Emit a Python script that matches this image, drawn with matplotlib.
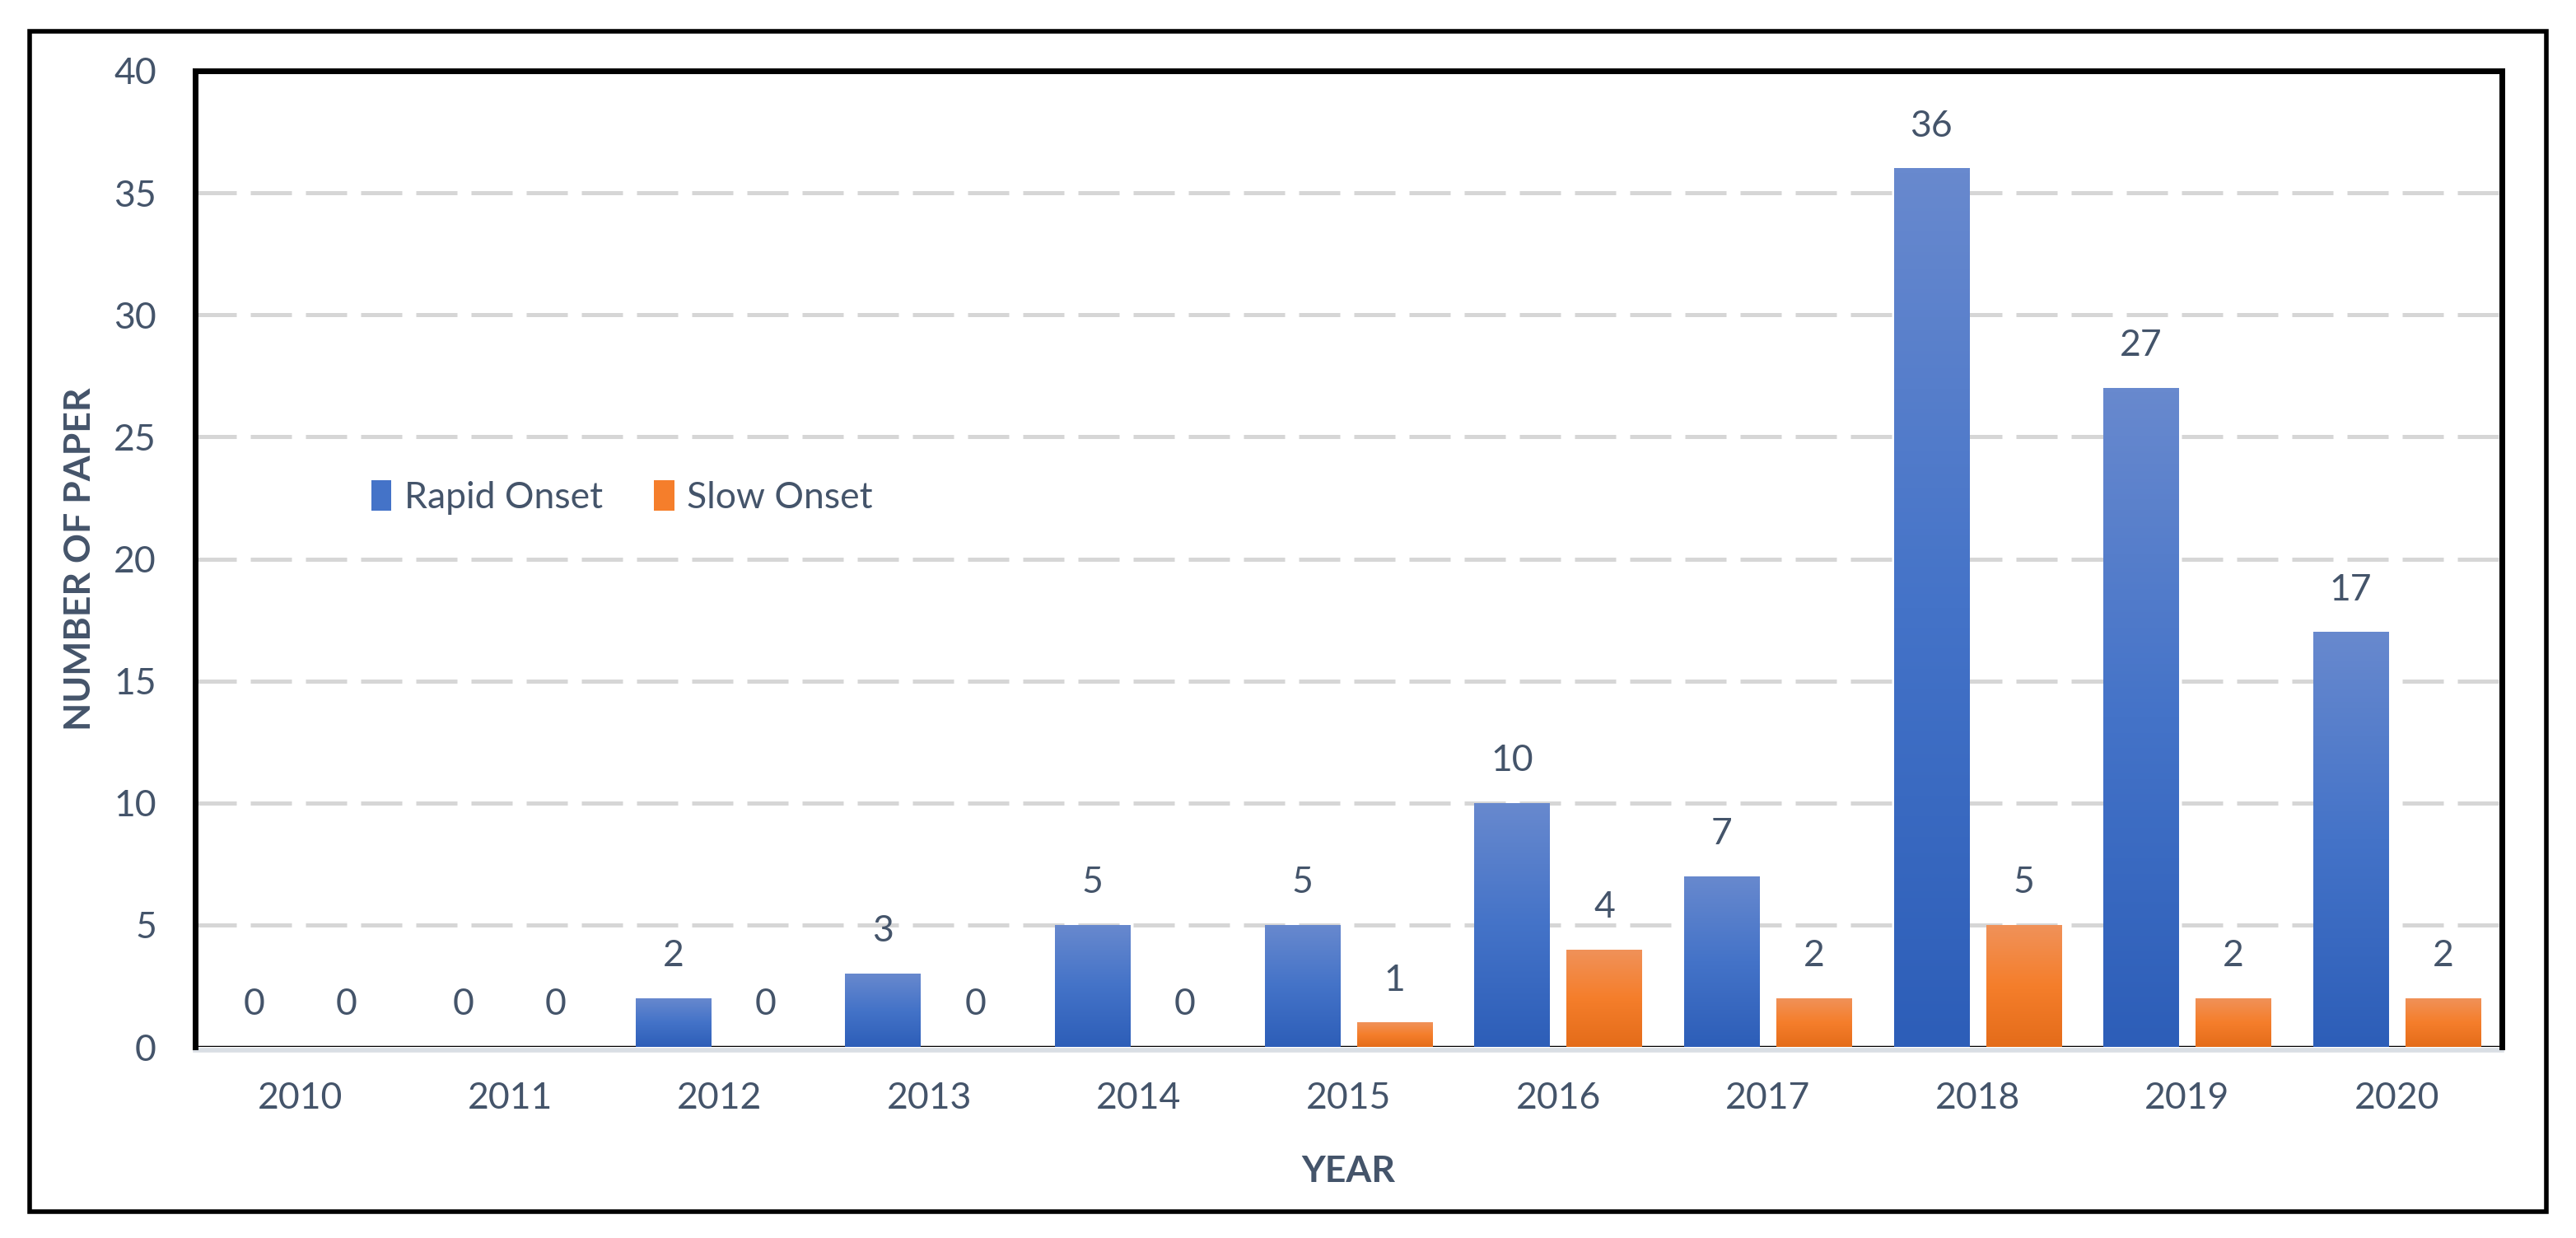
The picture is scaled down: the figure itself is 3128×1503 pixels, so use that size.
import numpy as np
import matplotlib
matplotlib.use("Agg")
import matplotlib.pyplot as plt
import matplotlib.transforms as mtransforms
from matplotlib.colors import LinearSegmentedColormap
from matplotlib.patches import Rectangle, Patch

years = ["2010", "2011", "2012", "2013", "2014", "2015", "2016", "2017", "2018", "2019", "2020"]
rapid = [0, 0, 2, 3, 5, 5, 10, 7, 36, 27, 17]
slow = [0, 0, 0, 0, 0, 1, 4, 2, 5, 2, 2]
series_names = ["Rapid Onset", "Slow Onset"]

txt_col = "#44546A"
fs = 32
plt.rcParams['font.family'] = ['Lato', 'DejaVu Sans']

blue_cmap = LinearSegmentedColormap.from_list("blue", ["#2D5EB8", "#4473C8", "#6889CE"])
orange_cmap = LinearSegmentedColormap.from_list("orange", ["#E46C1A", "#F57E2B", "#F0925A"])

fig = plt.figure(figsize=(31.28, 15.03), dpi=100)
ax = fig.add_axes([0.0758, 0.1543, 0.8954, 0.7885])

x = np.arange(len(years))
w = 0.36
off = 0.22
grad = np.linspace(0, 1, 256).reshape(-1, 1)

def grad_bars(pos, vals, cmap):
      bars = ax.bar(pos, vals, width=w, color='none', edgecolor='none', zorder=3)
      for b in bars:
            h = b.get_height()
            if h <= 0:
                  continue
            x0 = b.get_x()
            im = ax.imshow(grad, extent=(x0, x0 + b.get_width(), 0, h), origin='lower',
                           aspect='auto', cmap=cmap, zorder=3, interpolation='bicubic')
            im.set_clip_path(b)
      # value labels
      for p, v in zip(pos, vals):
            ax.annotate(str(v), (p, v), xytext=(0, 37), textcoords='offset points',
                        ha='center', va='center', fontsize=fs, color=txt_col)
      return bars

grad_bars(x - off, rapid, blue_cmap)
grad_bars(x + off, slow, orange_cmap)

ax.set_xlim(-0.5, len(years) - 0.5)
ax.set_ylim(0, 40)
ax.set_yticks(range(0, 41, 5))
ax.set_xticks(x)
ax.set_xticklabels(years)
ax.tick_params(axis='both', length=0, labelsize=fs, labelcolor=txt_col)
ax.tick_params(axis='y', pad=34)
ax.tick_params(axis='x', pad=30)

# dashed grid
for yv in range(5, 40, 5):
      ax.axhline(yv, color='#D6D6D6', lw=3.6, linestyle=(0, (10, 3.4)), zorder=1)

for s in ['left', 'top', 'right']:
      ax.spines[s].set_linewidth(5)
      ax.spines[s].set_color('black')
ax.spines['bottom'].set_visible(False)
ax.axhline(0, color='black', lw=2.5, zorder=2)
shifted = mtransforms.offset_copy(ax.get_yaxis_transform(), fig=fig, x=0, y=-4, units='dots')
ax.plot([0, 1], [0, 0], transform=shifted, color='#D9DEE4', lw=4, zorder=2, clip_on=False)

ax.set_xlabel("YEAR", fontsize=fs, fontweight='bold', color=txt_col, labelpad=35)
ax.set_ylabel("NUMBER OF PAPER", fontsize=fs, fontweight='bold', color=txt_col, labelpad=15)

handles = [Patch(facecolor="#4473C8", edgecolor='none'),
           Patch(facecolor="#F57E2B", edgecolor='none')]
ax.legend(handles, series_names, loc='center left', bbox_to_anchor=(0.062, 0.563),
          ncol=2, frameon=False, fontsize=fs, labelcolor=txt_col,
          handlelength=0.55, handleheight=0.9, handletextpad=0.35, columnspacing=1.4)

# outer frame
fig.patches.append(Rectangle((36 / 3128, 1 - 1471 / 1503), (3092 - 36) / 3128, (1471 - 38) / 1503,
                             transform=fig.transFigure, fill=False, edgecolor='black', lw=4))

fig.savefig("out.png", dpi=100)
